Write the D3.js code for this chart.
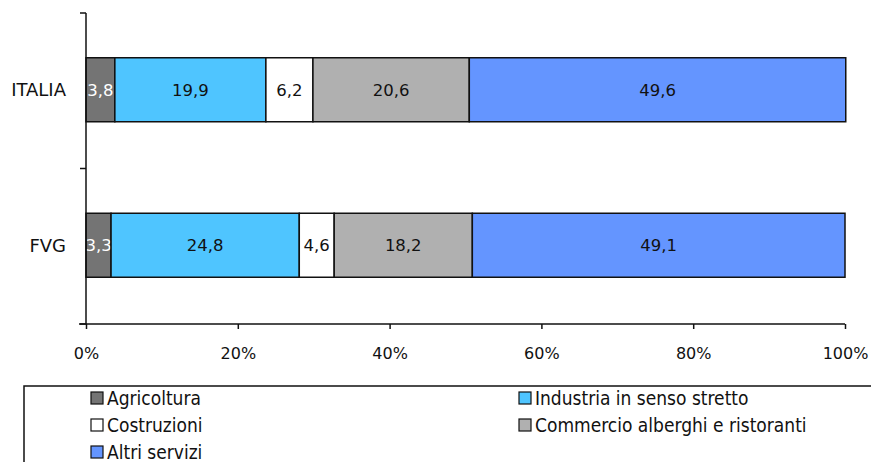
<!DOCTYPE html>
<html>
<head>
<meta charset="utf-8">
<script src="https://cdn.jsdelivr.net/npm/d3@7"></script>
<style>
  body { margin: 0; background: #fff; }
  svg { display: block; }
</style>
</head>
<body>
<div id="chart"></div>
<script>
var regions = ['ITALIA', 'FVG'];
var sectors = ['Agricoltura', 'Industria in senso stretto', 'Costruzioni', 'Commercio alberghi e ristoranti', 'Altri servizi'];
var italia = [3.8, 19.9, 6.2, 20.6, 49.6];
var fvg = [3.3, 24.8, 4.6, 18.2, 49.1];
var colors = ['#747474', '#4fc5ff', '#ffffff', '#b0b0b0', '#6495ff'];
var tickLabels = ['0%', '20%', '40%', '60%', '80%', '100%'];

var w = 871, h = 462;
var mLeft = 86, mRight = 845, mTop = 13, mBottom = 324;
var font = '"DejaVu Sans", Verdana, sans-serif';
var legendFont = '"DejaVu Sans Condensed", "Liberation Sans Narrow", sans-serif';

var svg = d3.select('#chart').append('svg')
    .attr('width', w)
    .attr('height', h);

var x = d3.scaleLinear().domain([0, 100]).range([mLeft, mRight]);
var y = d3.scaleBand().domain(regions).range([mTop, mBottom]).paddingInner(0).paddingOuter(0);
var barH = 64;

var rows = regions.map(function(r, i) {
    var vals = i == 0 ? italia : fvg;
    var acc = 0;
    return vals.map(function(v, j) {
        var d = {region: r, value: v, x0: acc, x1: acc + v, color: colors[j], idx: j};
        acc += v;
        return d;
    });
});

var segs = svg.selectAll('.row')
    .data(rows)
    .enter()
    .append('g')
    .attr('class', 'row')
    .selectAll('g')
    .data(function(d) { return d; })
    .enter()
    .append('g');

segs.append('rect')
    .attr('x', function(d) { return x(d.x0); })
    .attr('y', function(d) { return y(d.region) + y.bandwidth() / 2 - barH / 2 - 1; })
    .attr('width', function(d) { return x(d.x1) - x(d.x0); })
    .attr('height', barH)
    .attr('fill', function(d) { return d.color; })
    .attr('stroke', '#111')
    .attr('stroke-width', 1.5);

segs.append('text')
    .attr('x', function(d) { return (x(d.x0) + x(d.x1)) / 2; })
    .attr('y', function(d) { return y(d.region) + y.bandwidth() / 2 - 1; })
    .attr('dy', '.36em')
    .attr('text-anchor', 'middle')
    .style('font-family', font)
    .style('font-size', '16.5px')
    .style('fill', function(d) { return d.idx == 0 ? '#fff' : '#111'; })
    .text(function(d) { return String(d.value).replace('.', ','); });

// y axis: line with ticks at band edges
var yAxis = svg.append('g');
yAxis.append('line')
    .attr('x1', mLeft).attr('x2', mLeft)
    .attr('y1', mTop).attr('y2', mBottom)
    .attr('stroke', '#111').attr('stroke-width', 1.5);
yAxis.selectAll('.yt')
    .data([mTop, y('FVG'), mBottom])
    .enter()
    .append('line')
    .attr('x1', mLeft - 6).attr('x2', mLeft)
    .attr('y1', function(d) { return d; }).attr('y2', function(d) { return d; })
    .attr('stroke', '#111').attr('stroke-width', 1.5);
yAxis.selectAll('.yl')
    .data(regions)
    .enter()
    .append('text')
    .attr('x', mLeft - 20)
    .attr('y', function(d) { return y(d) + y.bandwidth() / 2 - 1; })
    .attr('dy', '.36em')
    .attr('text-anchor', 'end')
    .style('font-family', font)
    .style('font-size', '18px')
    .style('fill', '#111')
    .text(function(d) { return d; });

// x axis
var xAxis = d3.axisBottom(x)
    .tickValues([0, 20, 40, 60, 80, 100])
    .tickFormat(function(d, i) { return tickLabels[i]; })
    .tickSize(5)
    .tickSizeOuter(0);

var gx = svg.append('g')
    .attr('transform', 'translate(0,' + mBottom + ')')
    .call(xAxis);
gx.select('.domain').attr('stroke', '#111').attr('stroke-width', 1.5)
    .attr('d', 'M' + (mLeft - 7) + ',0H' + mRight);
gx.selectAll('.tick line').attr('stroke', '#111').attr('stroke-width', 1.5);
gx.selectAll('.tick text')
    .attr('y', 24)
    .style('font-family', font)
    .style('font-size', '16px')
    .style('fill', '#111');

// legend
var legend = svg.append('g');
legend.append('rect')
    .attr('x', 24).attr('y', 386)
    .attr('width', 880).attr('height', 120)
    .attr('fill', 'none')
    .attr('stroke', '#111').attr('stroke-width', 1.5);

var legendPos = [[91, 398], [519, 398], [91, 425], [519, 425], [91, 452]];
var items = legend.selectAll('.legend')
    .data(sectors)
    .enter()
    .append('g')
    .attr('class', 'legend')
    .attr('transform', function(d, i) {
        return 'translate(' + legendPos[i][0] + ',' + legendPos[i][1] + ')';
    });

items.append('rect')
    .attr('x', 0).attr('y', -6)
    .attr('width', 12).attr('height', 12)
    .attr('fill', function(d, i) { return colors[i]; })
    .attr('stroke', '#111').attr('stroke-width', 1.2);

items.append('text')
    .attr('x', 16)
    .attr('dy', '.35em')
    .style('font-family', legendFont)
    .style('font-size', '19px')
    .style('fill', '#111')
    .text(function(d) { return d; });
</script>
</body>
</html>
